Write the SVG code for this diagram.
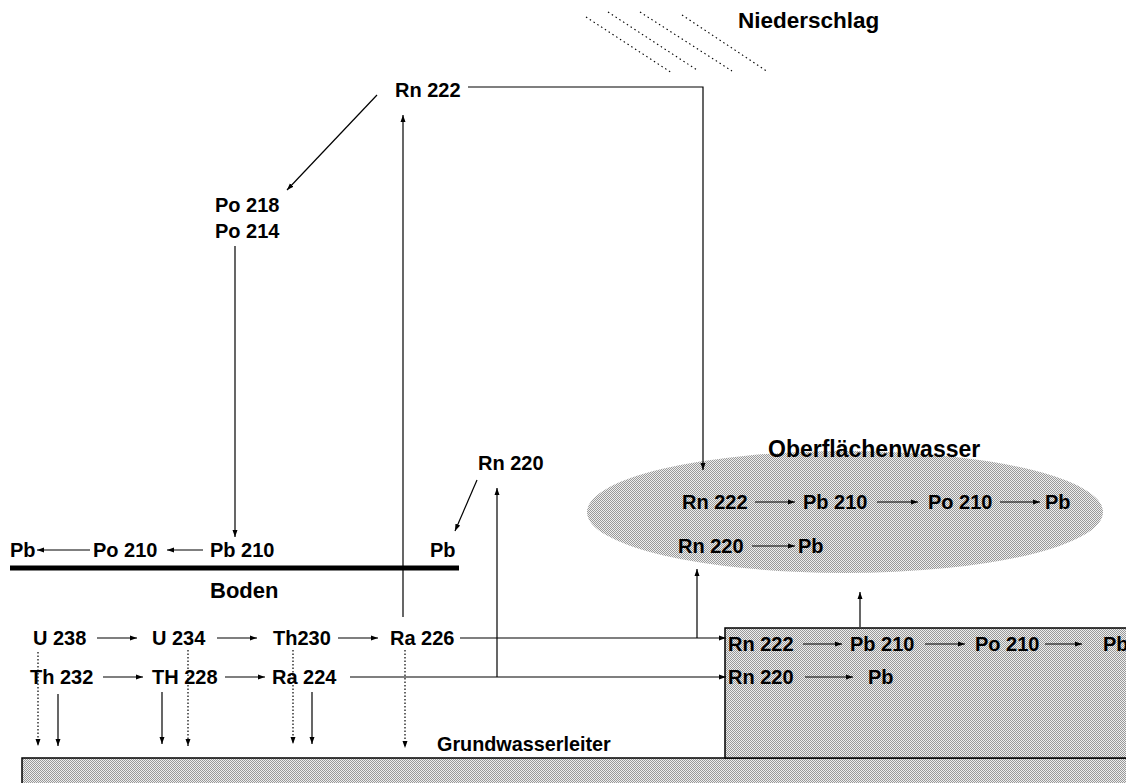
<svg xmlns="http://www.w3.org/2000/svg" width="1126" height="783" viewBox="0 0 1126 783">
<style>
text{font-family:"Liberation Sans",Arial,sans-serif;font-weight:bold;font-size:20px;fill:#000}
.ln{stroke:#000;stroke-width:1.2;fill:none}
.dot{stroke:#000;stroke-width:1.2;fill:none;stroke-dasharray:1.5 2}
.rain{stroke:#000;stroke-width:1.1;fill:none;stroke-dasharray:1.5 3}
</style>
<defs>
<pattern id="dith" width="2" height="2" patternUnits="userSpaceOnUse">
<rect width="2" height="2" fill="#eeeeee" shape-rendering="crispEdges"/>
<rect width="1" height="1" fill="#999999" shape-rendering="crispEdges"/>
<rect x="1" y="1" width="1" height="1" fill="#999999" shape-rendering="crispEdges"/>
</pattern>
<marker id="ah" markerWidth="8" markerHeight="6" refX="7" refY="3" orient="auto" markerUnits="userSpaceOnUse">
<path d="M0,0.5 L7,3 L0,5.5 Z" fill="#000"/>
</marker>
</defs>

<g id="rain">
<line class="rain" x1="586" y1="17" x2="672" y2="73"/>
<line class="rain" x1="608" y1="12" x2="697" y2="70"/>
<line class="rain" x1="640" y1="12" x2="732" y2="71"/>
<line class="rain" x1="682" y1="15" x2="768" y2="72"/>
</g>
<g id="niederschlag"><text x="738" y="28" style="font-size:22.5px">Niederschlag</text></g>

<g id="grundwasser-base">
<rect x="22" y="758" width="1110" height="30" fill="url(#dith)" stroke="#000" stroke-width="1.5"/>
</g>
<g id="grundwasser-block">
<rect x="725" y="628" width="410" height="130" fill="url(#dith)" stroke="#000" stroke-width="1.5"/>
</g>
<g id="oberflaechenwasser">
<ellipse cx="845" cy="512" rx="258" ry="61" fill="url(#dith)"/>
<text x="768" y="457" style="font-size:23px">Oberflächenwasser</text>
</g>

<g id="boden">
<line x1="10" y1="568" x2="459" y2="568" stroke="#000" stroke-width="5"/>
<text x="210" y="598" style="font-size:22px">Boden</text>
</g>
<g id="grundwasserleiter"><text x="437" y="751" style="font-size:19.8px">Grundwasserleiter</text></g>

<g id="nodes">
<g id="rn222-top"><text x="395" y="97">Rn 222</text></g>
<g id="po218"><text x="215" y="212">Po 218</text></g>
<g id="po214"><text x="215" y="238">Po 214</text></g>
<g id="pb-left"><text x="10" y="557">Pb</text></g>
<g id="po210-soil"><text x="93" y="557">Po 210</text></g>
<g id="pb210-soil"><text x="210" y="557">Pb 210</text></g>
<g id="pb-right"><text x="430" y="557">Pb</text></g>
<g id="rn220-top"><text x="478" y="470">Rn 220</text></g>
<g id="u238"><text x="33" y="645">U 238</text></g>
<g id="u234"><text x="152" y="645">U 234</text></g>
<g id="th230"><text x="273" y="645">Th230</text></g>
<g id="ra226"><text x="390" y="645">Ra 226</text></g>
<g id="th232"><text x="30" y="684">Th 232</text></g>
<g id="th228"><text x="152" y="684">TH 228</text></g>
<g id="ra224"><text x="272" y="684">Ra 224</text></g>
<g id="ow-rn222"><text x="682" y="509">Rn 222</text></g>
<g id="ow-pb210"><text x="803" y="509">Pb 210</text></g>
<g id="ow-po210"><text x="928" y="509">Po 210</text></g>
<g id="ow-pb"><text x="1045" y="509">Pb</text></g>
<g id="ow-rn220"><text x="678" y="553">Rn 220</text></g>
<g id="ow-pb2"><text x="798" y="553">Pb</text></g>
<g id="gw-rn222"><text x="728" y="651">Rn 222</text></g>
<g id="gw-pb210"><text x="850" y="651">Pb 210</text></g>
<g id="gw-po210"><text x="975" y="651">Po 210</text></g>
<g id="gw-pb"><text x="1103" y="651">Pb</text></g>
<g id="gw-rn220"><text x="728" y="684">Rn 220</text></g>
<g id="gw-pb2"><text x="868" y="684">Pb</text></g>
</g>

<g id="connectors">
<polyline class="ln" points="468,87 703,87 703,470" marker-end="url(#ah)"/>
<line class="ln" x1="377" y1="95" x2="287" y2="190" marker-end="url(#ah)"/>
<line class="ln" x1="235" y1="246" x2="235" y2="537" marker-end="url(#ah)"/>
<line class="ln" x1="403" y1="617" x2="403" y2="115" marker-end="url(#ah)"/>
<line class="ln" x1="90" y1="550" x2="37" y2="550" marker-end="url(#ah)"/>
<line class="ln" x1="203" y1="550" x2="167" y2="550" marker-end="url(#ah)"/>
<line class="ln" x1="477" y1="480" x2="455" y2="531" marker-end="url(#ah)"/>
<line class="ln" x1="497" y1="677" x2="497" y2="488" marker-end="url(#ah)"/>
<line class="ln" x1="97" y1="638" x2="137" y2="638" marker-end="url(#ah)"/>
<line class="ln" x1="217" y1="638" x2="257" y2="638" marker-end="url(#ah)"/>
<line class="ln" x1="338" y1="638" x2="378" y2="638" marker-end="url(#ah)"/>
<line class="ln" x1="460" y1="638" x2="726" y2="638" marker-end="url(#ah)"/>
<line class="ln" x1="103" y1="677" x2="143" y2="677" marker-end="url(#ah)"/>
<line class="ln" x1="225" y1="677" x2="265" y2="677" marker-end="url(#ah)"/>
<line class="ln" x1="350" y1="677" x2="726" y2="677" marker-end="url(#ah)"/>
<line class="ln" x1="697" y1="638" x2="697" y2="569" marker-end="url(#ah)"/>
<line class="ln" x1="860" y1="627" x2="860" y2="592" marker-end="url(#ah)"/>
<line class="ln" x1="755" y1="502" x2="795" y2="502" marker-end="url(#ah)"/>
<line class="ln" x1="877" y1="502" x2="918" y2="502" marker-end="url(#ah)"/>
<line class="ln" x1="1000" y1="502" x2="1040" y2="502" marker-end="url(#ah)"/>
<line class="ln" x1="752" y1="546" x2="795" y2="546" marker-end="url(#ah)"/>
<line class="ln" x1="803" y1="644" x2="842" y2="644" marker-end="url(#ah)"/>
<line class="ln" x1="925" y1="644" x2="965" y2="644" marker-end="url(#ah)"/>
<line class="ln" x1="1045" y1="644" x2="1082" y2="644" marker-end="url(#ah)"/>
<line class="ln" x1="805" y1="677" x2="853" y2="677" marker-end="url(#ah)"/>
<line class="dot" x1="38" y1="652" x2="38" y2="746" marker-end="url(#ah)"/>
<line class="ln" x1="58" y1="694" x2="58" y2="746" marker-end="url(#ah)"/>
<line class="ln" x1="162" y1="692" x2="162" y2="744" marker-end="url(#ah)"/>
<line class="dot" x1="188" y1="650" x2="188" y2="746" marker-end="url(#ah)"/>
<line class="dot" x1="293" y1="650" x2="293" y2="744" marker-end="url(#ah)"/>
<line class="ln" x1="312" y1="692" x2="312" y2="744" marker-end="url(#ah)"/>
<line class="dot" x1="405" y1="650" x2="405" y2="748" marker-end="url(#ah)"/>
</g>
</svg>
